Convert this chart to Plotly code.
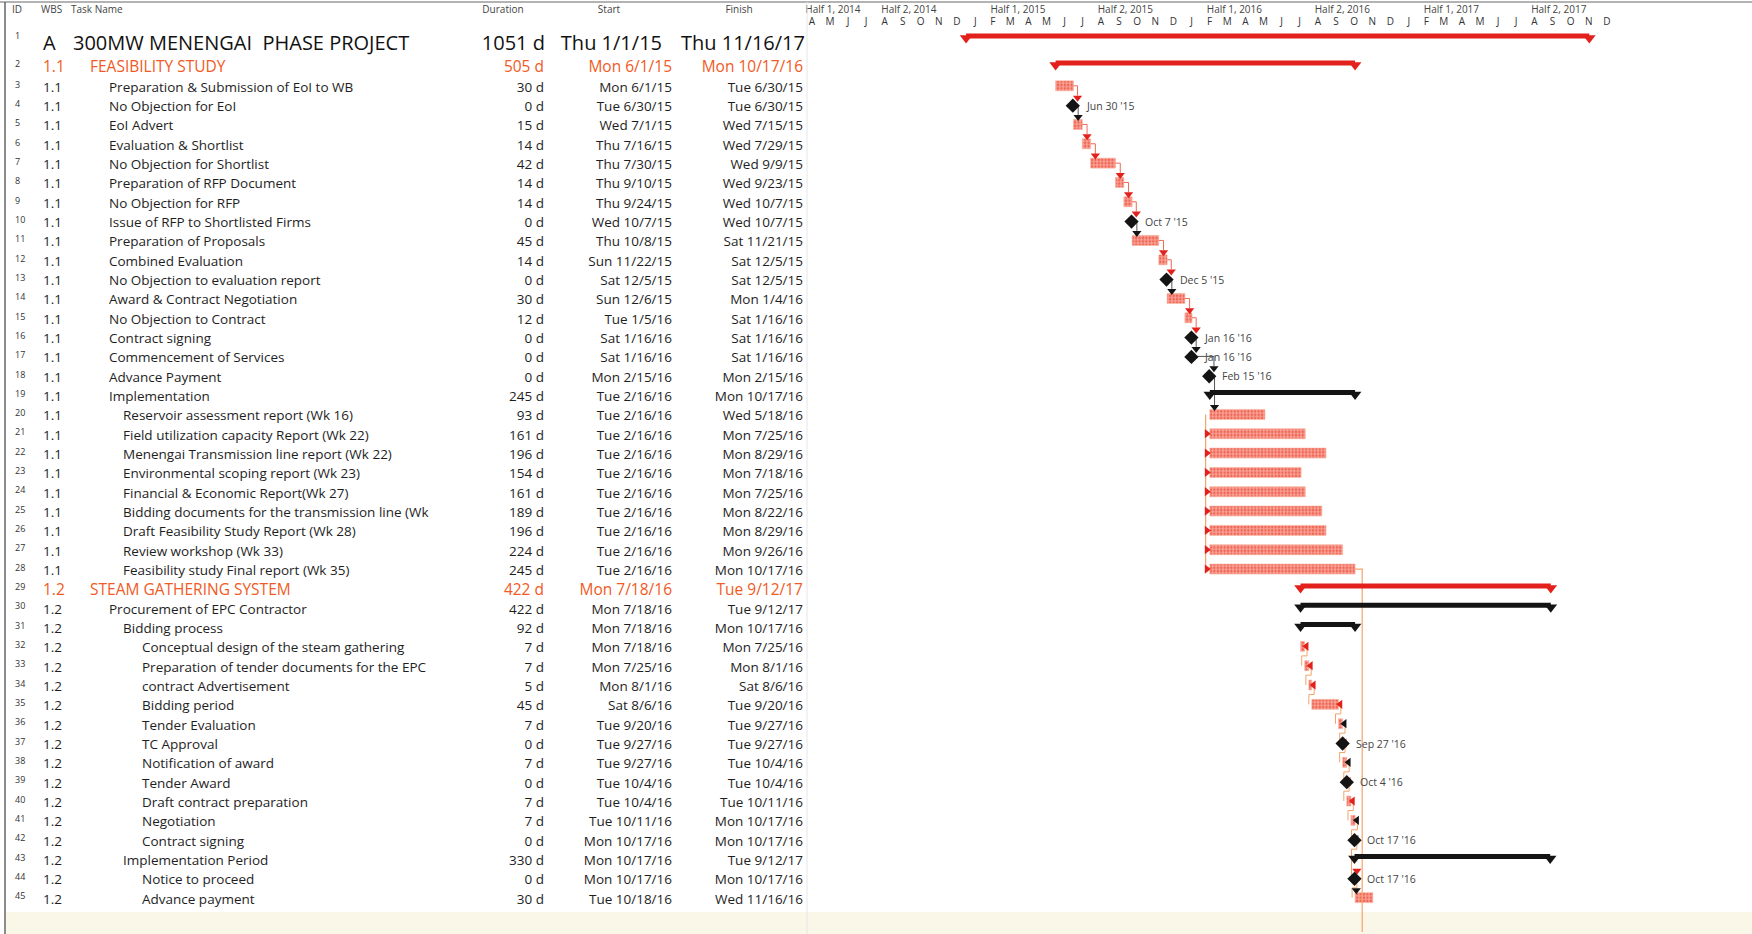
import plotly.graph_objects as go
import pandas as pd

# ---------------- data ----------------
task_ids = list(range(1, 46))
wbs = ["A"] + ["1.1"] * 27 + ["1.2"] * 17
task_names = [
    "300MW MENENGAI  PHASE PROJECT",
    "FEASIBILITY STUDY",
    "Preparation & Submission of EoI to WB",
    "No Objection for EoI",
    "EoI Advert",
    "Evaluation & Shortlist",
    "No Objection for Shortlist",
    "Preparation of RFP Document",
    "No Objection for RFP",
    "Issue of RFP to Shortlisted Firms",
    "Preparation of Proposals",
    "Combined Evaluation",
    "No Objection to evaluation report",
    "Award & Contract Negotiation",
    "No Objection to Contract",
    "Contract signing",
    "Commencement of Services",
    "Advance Payment",
    "Implementation",
    "Reservoir assessment report (Wk 16)",
    "Field utilization capacity Report (Wk 22)",
    "Menengai Transmission line report (Wk 22)",
    "Environmental scoping report (Wk 23)",
    "Financial & Economic Report(Wk 27)",
    "Bidding documents for the transmission line (Wk",
    "Draft Feasibility Study Report (Wk 28)",
    "Review workshop (Wk 33)",
    "Feasibility study Final report (Wk 35)",
    "STEAM GATHERING SYSTEM",
    "Procurement of EPC Contractor",
    "Bidding process",
    "Conceptual design of the steam gathering",
    "Preparation of tender documents for the EPC",
    "contract Advertisement",
    "Bidding period",
    "Tender Evaluation",
    "TC Approval",
    "Notification of award",
    "Tender Award",
    "Draft contract preparation",
    "Negotiation",
    "Contract signing",
    "Implementation Period",
    "Notice to proceed",
    "Advance payment",
]
durations = [1051, 505, 30, 0, 15, 14, 42, 14, 14, 0, 45, 14, 0, 30, 12, 0, 0, 0,
             245, 93, 161, 196, 154, 161, 189, 196, 224, 245,
             422, 422, 92, 7, 7, 5, 45, 7, 0, 7, 0, 7, 7, 0, 330, 0, 30]
start_dates = [
    "2015-01-01", "2015-06-01", "2015-06-01", "2015-06-30", "2015-07-01", "2015-07-16",
    "2015-07-30", "2015-09-10", "2015-09-24", "2015-10-07", "2015-10-08", "2015-11-22",
    "2015-12-05", "2015-12-06", "2016-01-05", "2016-01-16", "2016-01-16", "2016-02-15",
    "2016-02-16", "2016-02-16", "2016-02-16", "2016-02-16", "2016-02-16", "2016-02-16",
    "2016-02-16", "2016-02-16", "2016-02-16", "2016-02-16",
    "2016-07-18", "2016-07-18", "2016-07-18", "2016-07-18", "2016-07-25", "2016-08-01",
    "2016-08-06", "2016-09-20", "2016-09-27", "2016-09-27", "2016-10-04", "2016-10-04",
    "2016-10-11", "2016-10-17", "2016-10-17", "2016-10-17", "2016-10-18",
]
finish_dates = [
    "2017-11-16", "2016-10-17", "2015-06-30", "2015-06-30", "2015-07-15", "2015-07-29",
    "2015-09-09", "2015-09-23", "2015-10-07", "2015-10-07", "2015-11-21", "2015-12-05",
    "2015-12-05", "2016-01-04", "2016-01-16", "2016-01-16", "2016-01-16", "2016-02-15",
    "2016-10-17", "2016-05-18", "2016-07-25", "2016-08-29", "2016-07-18", "2016-07-25",
    "2016-08-22", "2016-08-29", "2016-09-26", "2016-10-17",
    "2017-09-12", "2017-09-12", "2016-10-17", "2016-07-25", "2016-08-01", "2016-08-06",
    "2016-09-20", "2016-09-27", "2016-09-27", "2016-10-04", "2016-10-04", "2016-10-11",
    "2016-10-17", "2016-10-17", "2017-09-12", "2016-10-17", "2016-11-16",
]
# row kind: project / phase (red summary) / summary (black) / task / milestone
kinds = (["project", "phase"] + ["task"] + ["milestone"] + ["task"] * 5 + ["milestone"]
         + ["task", "task", "milestone", "task", "task", "milestone", "milestone", "milestone"]
         + ["summary"] + ["task"] * 9
         + ["phase", "summary", "summary"] + ["task"] * 5
         + ["milestone", "task", "milestone", "task", "task", "milestone", "summary", "milestone", "task"])
outline_levels = [0, 1] + [2] * 17 + [3] * 9 + [1, 2, 3] + [4] * 11 + [3, 4, 4]

month_letters = list("AMJJASOND" + "JFMAMJJASOND" * 3)
half_labels = ["Half 1, 2014", "Half 2, 2014", "Half 1, 2015", "Half 2, 2015",
               "Half 1, 2016", "Half 2, 2016", "Half 1, 2017", "Half 2, 2017"]
header_labels = ["ID", "WBS", "Task Name", "Duration", "Start", "Finish"]

# ---------------- layout constants ----------------
W, H = 1752, 934
FONT = "Open Sans, Noto Sans, sans-serif"
RED = "#E3211C"
ORANGE = "#F15A24"
BLACK = "#141414"
LINK_ORANGE = "#F4A46A"
X_LEFT_PX = 803
PX_PER_DAY = 0.593
x0 = pd.Timestamp("2014-04-01")
x1 = x0 + pd.Timedelta(days=(W - X_LEFT_PX) / PX_PER_DAY)


def row_center(i):
    if i == 1:
        return 45.0
    if i == 2:
        return 68.0
    return 88.3 + (i - 3) * 19.33


N = len(task_ids)
ys = [row_center(i) for i in task_ids]
starts = [pd.Timestamp(s) for s in start_dates]
finishes = [pd.Timestamp(s) for s in finish_dates]
ends = [s + pd.Timedelta(days=d) for s, d in zip(starts, durations)]


def fmt_date(d):
    return f"{d:%a} {d.month}/{d.day}/{d:%y}"


def fmt_ms(d):
    return f"{d:%b} {d.day} '{d:%y}"


fig = go.Figure()
GX, TX = "x2", "x"   # gantt (date) axis, table (pixel) axis

# ---------------- table text (pixel x axis) ----------------
level_x = {0: 73, 1: 90, 2: 109, 3: 123, 4: 142}
sizes, colors = [], []
for k in kinds:
    if k == "project":
        sizes.append(20); colors.append("#111111")
    elif k == "phase":
        sizes.append(15.5); colors.append(ORANGE)
    else:
        sizes.append(13.5); colors.append("#1e1e1e")


def text_trace(xs, yy, texts, pos, size, color):
    return go.Scatter(x=xs, y=yy, text=texts, mode="text", textposition=pos,
                      textfont=dict(family=FONT, size=size, color=color),
                      xaxis=TX, yaxis="y", hoverinfo="skip", showlegend=False,
                      cliponaxis=False)


fig.add_trace(text_trace([15] * N, [y - (8 if i == 1 else 3) for i, y in zip(task_ids, ys)],
                         [str(i) for i in task_ids], "middle right", 9, "#333333"))
fig.add_trace(text_trace([43] * N, ys, wbs, "middle right", sizes, colors))
fig.add_trace(text_trace([level_x[l] for l in outline_levels], ys, task_names,
                         "middle right", sizes, colors))
dur_x = [545 if k == "project" else 544 for k in kinds]
st_x = [662 if k == "project" else 672 for k in kinds]
fi_x = [805 if k == "project" else 803 for k in kinds]
fig.add_trace(text_trace(dur_x, ys, [f"{d} d" for d in durations], "middle left", sizes, colors))
fig.add_trace(text_trace(st_x, ys, [fmt_date(d) for d in starts], "middle left", sizes, colors))
fig.add_trace(text_trace(fi_x, ys, [fmt_date(d) for d in finishes], "middle left", sizes, colors))

hdr_x = [12, 41, 71, 503, 609, 739]
hdr_pos = ["middle right"] * 3 + ["middle center"] * 3
for lab, hx, hp in zip(header_labels, hdr_x, hdr_pos):
    fig.add_trace(text_trace([hx], [10], [lab], hp, 10, "#444444"))


def gscatter(**kw):
    fig.add_trace(go.Scatter(xaxis=GX, yaxis="y", hoverinfo="skip", showlegend=False,
                             cliponaxis=False, **kw))


# ---------------- timescale ----------------
months = pd.date_range("2014-04-01", periods=len(month_letters), freq="MS")
month_mid = [m + pd.Timedelta(days=m.days_in_month / 2) for m in months]
gscatter(x=month_mid, y=[22] * len(months), text=month_letters, mode="text",
         textposition="middle center", textfont=dict(family=FONT, size=10, color="#333333"))
half_starts = pd.date_range("2014-01-01", periods=len(half_labels), freq="6MS")
half_x = [max(h + pd.Timedelta(days=41), x0 + pd.Timedelta(days=4)) for h in half_starts]
gscatter(x=half_x, y=[10] * len(half_x), text=half_labels, mode="text",
         textposition="middle right", textfont=dict(family=FONT, size=10, color="#444444"))

# ---------------- link lines ----------------
ARROW_DX = pd.Timedelta(days=8)


def add_line(xs, yy, color, width=1):
    gscatter(x=xs, y=yy, mode="lines", line=dict(color=color, width=width))


chain = [(i, i - 1) for i in range(4, 19)] + [(20, 18)]
down_x, down_y, down_c = [], [], []
for succ, pred in chain:
    si, pi = succ - 1, pred - 1
    ax = starts[si] + ARROW_DX
    ay = ys[si] - 10
    if kinds[pi] == "milestone":
        px_ = starts[pi] + pd.Timedelta(days=4)
        col, lcol = BLACK, "#555555"
    else:
        px_ = ends[pi]
        col, lcol = RED, "#EE6A55"
    py = ys[pi] - 2.5
    add_line([px_, ax, ax], [py, py, ay - 2], lcol, 1)
    down_x.append(ax); down_y.append(ay); down_c.append(col)

add_line([starts[19] - pd.Timedelta(days=7)] * 2, [ys[19] - 2.5, ys[27] - 2.5], LINK_ORANGE, 1.2)
right_x = [starts[i] - pd.Timedelta(days=5) for i in range(20, 28)]
right_y = [ys[i] - 2.5 for i in range(20, 28)]

stub = ends[27] + pd.Timedelta(days=12)
add_line([ends[27], stub, stub], [ys[27] - 2.5, ys[27] - 2.5, 932], LINK_ORANGE, 1.2)

seq = list(range(32, 43)) + [44, 45]
for a, b in zip(seq[:-1], seq[1:]):
    ai, bi = a - 1, b - 1
    ex = ends[ai] + pd.Timedelta(days=4)
    bx = starts[bi] - pd.Timedelta(days=5)
    yl = ys[ai] + 7
    add_line([ex, ex, bx, bx], [ys[ai] - 2.5, yl, yl, ys[bi] - 2.5], LINK_ORANGE, 1)
left_rows = list(range(32, 43))
left_cols = {32: RED, 33: RED, 34: RED, 35: RED, 36: BLACK, 37: RED, 38: BLACK,
             39: RED, 40: RED, 41: BLACK, 42: BLACK}
left_x = [ends[r - 1] + pd.Timedelta(days=3) for r in left_rows]
left_y = [ys[r - 1] - 2.5 for r in left_rows]
down_x += [starts[43] + pd.Timedelta(days=4), starts[44] + pd.Timedelta(days=2)]
down_y += [ys[43] - 10, ys[44] - 10]
down_c += [RED, BLACK]

# ---------------- task bars ----------------
task_idx = [i for i, k in enumerate(kinds) if k == "task"]
fig.add_trace(go.Bar(
    orientation="h", xaxis=GX, yaxis="y",
    base=[starts[i] for i in task_idx],
    x=[durations[i] * 86400000 for i in task_idx],
    y=[ys[i] - 2.5 for i in task_idx],
    width=10,
    marker=dict(color="#EE4A36",
                line=dict(color="#F6B09C", width=0.6),
                pattern=dict(shape=".", fgcolor="#FFF6F2", size=3.4, solidity=0.7)),
    hoverinfo="skip", showlegend=False))

# ---------------- summary bars ----------------
for i, k in enumerate(kinds):
    if k in ("project", "phase", "summary"):
        col = RED if k in ("project", "phase") else BLACK
        yy = ys[i] - (9 if k == "project" else 5)
        add_line([starts[i], ends[i]], [yy, yy], col, 5)
        gscatter(x=[starts[i], ends[i]], y=[yy + 2, yy + 2], mode="markers",
                 marker=dict(symbol="triangle-down", size=11, color=col))

# ---------------- arrowheads ----------------
gscatter(x=down_x, y=down_y, mode="markers",
         marker=dict(symbol="triangle-down", size=8, color=down_c))
gscatter(x=right_x, y=right_y, mode="markers",
         marker=dict(symbol="triangle-right", size=8, color=RED))
gscatter(x=left_x, y=left_y, mode="markers",
         marker=dict(symbol="triangle-left", size=8, color=[left_cols[r] for r in left_rows]))

# ---------------- milestones ----------------
ms_idx = [i for i, k in enumerate(kinds) if k == "milestone"]
gscatter(x=[starts[i] for i in ms_idx], y=[ys[i] - 2 for i in ms_idx], mode="markers",
         marker=dict(symbol="diamond", size=11, color=BLACK))
annotations = []
for i in ms_idx:
    annotations.append(dict(x=starts[i], y=ys[i] - 2, xref=GX, yref="y",
                            text=fmt_ms(starts[i]), showarrow=False, xanchor="left",
                            xshift=11, font=dict(family=FONT, size=10.5, color="#444444")))

# ---------------- frame lines ----------------
shapes = [
    dict(type="line", xref="paper", yref="y", x0=0, x1=1, y0=2, y1=2,
         line=dict(color="#9a9a9a", width=1.5)),
    dict(type="line", xref=TX, yref="y", x0=5, x1=5, y0=2, y1=H,
         line=dict(color="#666666", width=1.5)),
    dict(type="line", xref=TX, yref="y", x0=807, x1=807, y0=2, y1=H,
         line=dict(color="#e6e6e6", width=1)),
    dict(type="rect", xref=TX, yref="y", x0=6, x1=W, y0=912, y1=H,
         fillcolor="#FBF7E8", line=dict(width=0), layer="below"),
]

fig.update_layout(
    width=W, height=H,
    margin=dict(l=0, r=0, t=0, b=0),
    paper_bgcolor="white", plot_bgcolor="rgba(0,0,0,0)",
    barmode="overlay",
    xaxis=dict(range=[0, W], domain=[0, 1], visible=False, anchor="y", fixedrange=True),
    xaxis2=dict(type="date", range=[x0, x1], domain=[X_LEFT_PX / W, 1], visible=False,
                anchor="y", fixedrange=True),
    yaxis=dict(range=[H, 0], domain=[0, 1], visible=False, fixedrange=True),
    annotations=annotations,
    shapes=shapes,
    showlegend=False,
)

fig.write_html("out.html", config={"displayModeBar": False},
               post_script="document.body.style.margin='0px';")
